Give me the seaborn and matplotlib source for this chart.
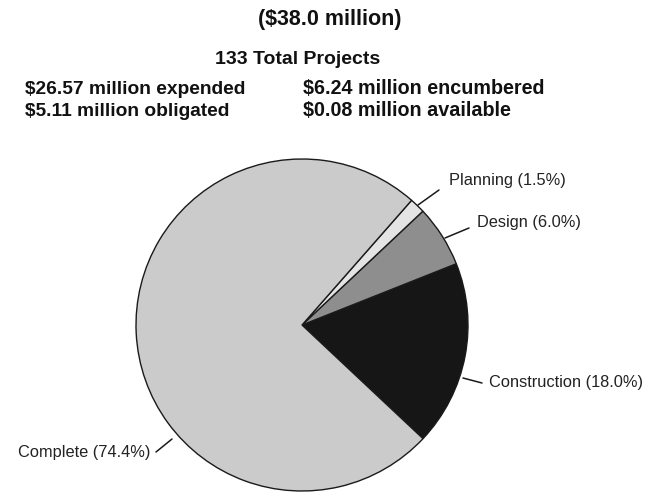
"""Project status pie - 133 total projects ($38.0 million)"""
import numpy as np
import matplotlib.pyplot as plt
import seaborn as sns

# Data
phases = ['Construction', 'Design', 'Planning', 'Complete']
shares = [18.0, 6.0, 1.5, 74.4]
colors = ['#161616', '#8e8e8e', '#e4e4e4', '#cbcbcb']
title = '($38.0 million)'
subtitle = '133 Total Projects'
money_left = ['$26.57 million expended', '$5.11 million obligated']
money_right = ['$6.24 million encumbered', '$0.08 million available']

sns.set_theme(style='white')
plt.rcParams['font.family'] = ['Liberation Sans', 'DejaVu Sans']

W, H = 649, 492
fig = plt.figure(figsize=(W / 100, H / 100), dpi=100)
ax = fig.add_axes([0, 0, 1, 1])

# pie in pixel coords (y up)
cx, cy, r = 302, H - 325, 166
wedges, _ = ax.pie(shares, colors=colors, startangle=-43.2, counterclock=True,
                   center=(cx, cy), radius=r, frame=True,
                   wedgeprops=dict(edgecolor='#1a1a1a', linewidth=1.0))
ax.set_xlim(0, W)
ax.set_ylim(0, H)
ax.set_aspect('equal')
ax.axis('off')

# labels with leader lines (line start, line end, text anchor)
leaders = {
    'Construction': ((463, 378), (482, 383), (489, 383)),
    'Design': ((445, 238), (469, 228), (477, 223)),
    'Planning': ((418, 205), (439, 190), (449, 181)),
    'Complete': ((172, 439), (156, 452), (150, 452)),
}
for name, pct in zip(phases, shares):
    p0, p1, pt = leaders[name]
    ax.plot([p0[0], p1[0]], [H - p0[1], H - p1[1]], color='#1a1a1a', lw=1.1)
    ha = 'right' if name == 'Complete' else 'left'
    ax.text(pt[0], H - pt[1], f'{name} ({pct:.1f}%)', ha=ha, va='center',
            fontsize=11.8, color='#222222')

# header text
ax.text(330, H - 19, title, ha='center', va='center', fontsize=15.5,
        fontweight='bold', color='#111111')
ax.text(298, H - 59, subtitle, ha='center', va='center', fontsize=14,
        fontweight='bold', color='#111111')
for i, (a, b) in enumerate(zip(money_left, money_right)):
    y = H - (89 + i * 22)
    ax.text(25, y, a, ha='left', va='center', fontsize=13.8,
            fontweight='bold', color='#111111')
    ax.text(303, y, b, ha='left', va='center', fontsize=14.2,
            fontweight='bold', color='#111111')

plt.savefig('out.png', dpi=100)
